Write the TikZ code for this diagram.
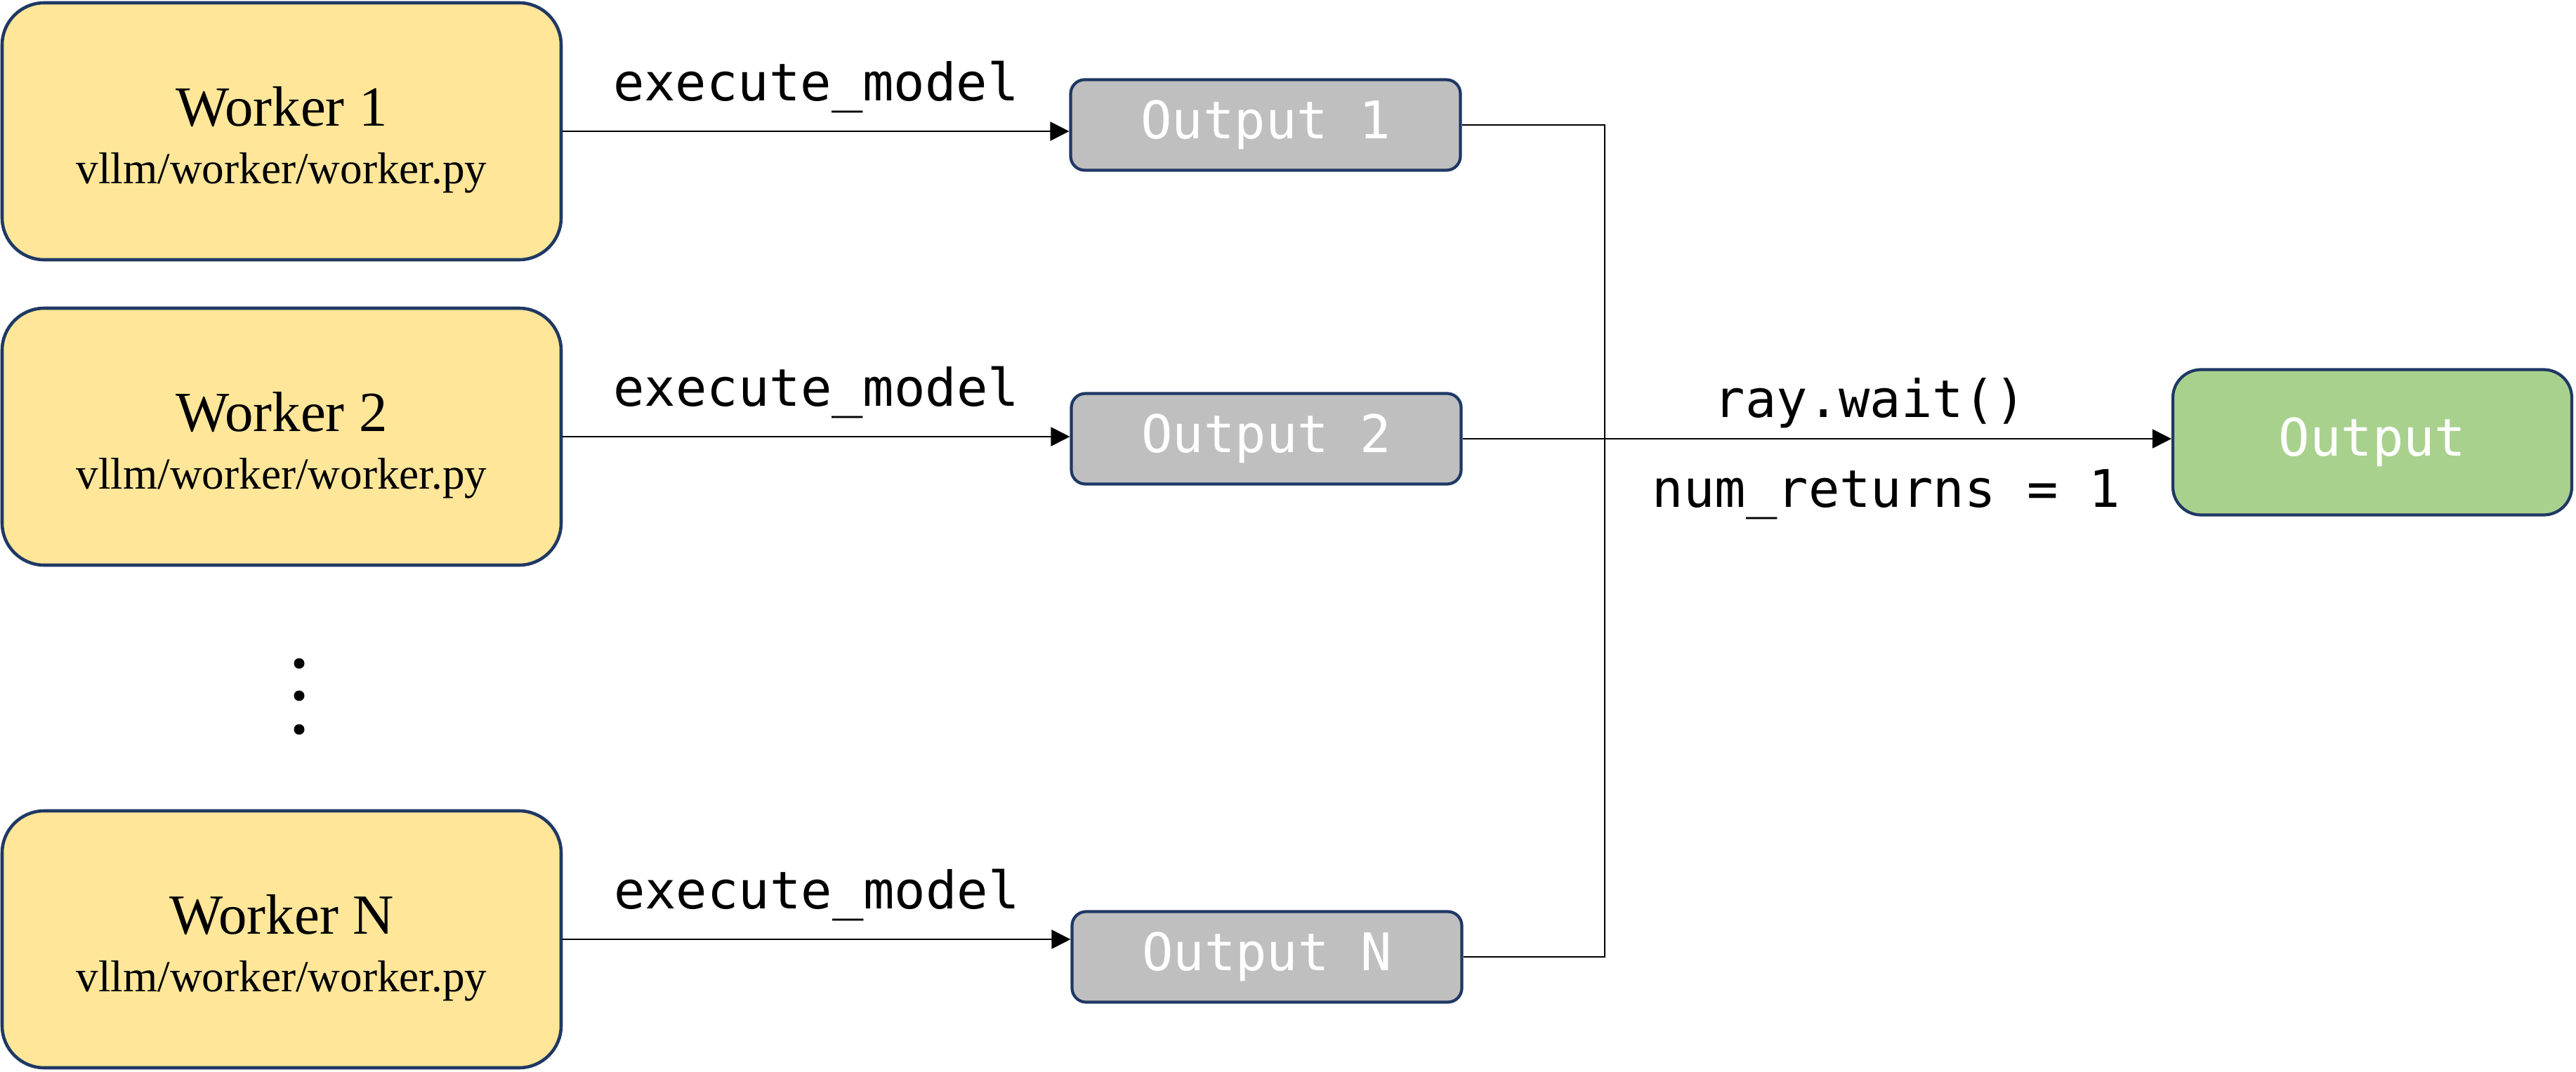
\documentclass[tikz,border=0pt]{standalone}
\usepackage{fontspec}
\setmainfont{Liberation Serif}
\setmonofont{DejaVu Sans Mono}
\usetikzlibrary{arrows.meta}
\definecolor{wfill}{HTML}{FFE699}
\definecolor{navy}{HTML}{1F3864}
\definecolor{ofill}{HTML}{BFBFBF}
\definecolor{gfill}{HTML}{A9D18E}

\begin{document}
\begin{tikzpicture}[
    worker/.style={rectangle, draw=navy, fill=wfill, line width=1.3pt,
                   rounded corners=0.6cm,
                   minimum width=7.96cm, minimum height=3.66cm,
                   align=center, font=\fontsize{23}{23.5}\selectfont},
    outbox/.style={rectangle, draw=navy, fill=ofill, line width=1.2pt,
                   rounded corners=0.2cm,
                   minimum width=5.55cm, minimum height=1.29cm,
                   text=white, font=\ttfamily\fontsize{21}{25}\selectfont},
    final/.style={outbox, fill=gfill, rounded corners=0.4cm,
                  minimum width=5.68cm, minimum height=2.07cm},
    link/.style={line width=0.6pt, -{Triangle[length=0.27cm, width=0.27cm]}},
    lbl/.style={font=\ttfamily\fontsize{21}{25}\selectfont, inner sep=0pt},
    ]
\useasboundingbox (0,0) rectangle (36.68,-15.27);

\node[worker] (w1) at (4.01,-1.87)
    {\rule{0pt}{23pt}Worker 1\\{\fontsize{18}{23.5}\selectfont vllm/worker/worker.py}};
\node[worker] (w2) at (4.01,-6.22)
    {\rule{0pt}{23pt}Worker 2\\{\fontsize{18}{23.5}\selectfont vllm/worker/worker.py}};
\node[worker] (wN) at (4.01,-13.38)
    {\rule{0pt}{23pt}Worker N\\{\fontsize{18}{23.5}\selectfont vllm/worker/worker.py}};
\foreach \y in {-9.45,-9.91,-10.39}
    \fill (4.26,\y) circle (0.075);
    %%%
\node[outbox] (o1) at (18.02,-1.78) {Output 1};
\node[outbox] (o2) at (18.03,-6.25) {Output 2};
\node[outbox] (oN) at (18.04,-13.63) {Output N};
\node[final] (out) at (33.78,-6.30) {Output};
\coordinate (bus) at (22.85,0);
    %%%
\draw[link] (w1.east) -- (w1.east -| o1.west)
    node[lbl, midway, above=0.25cm] {execute\_model};
\draw[link] (w2.east) -- (w2.east -| o2.west)
    node[lbl, midway, above=0.25cm] {execute\_model};
\draw[link] (wN.east) -- (wN.east -| oN.west)
    node[lbl, midway, above=0.25cm] {execute\_model};
    %%%
\draw[line width=0.6pt] (o1.east) -| (bus |- oN.east) -- (oN.east);
\draw[link] (o2.east) -- (o2.east -| out.west)
    node[lbl, pos=0.575, above=0.14cm] {ray.wait()}
    node[lbl, pos=0.598, below=0.43cm] {num\_returns = 1};
\end{tikzpicture}
\end{document}
